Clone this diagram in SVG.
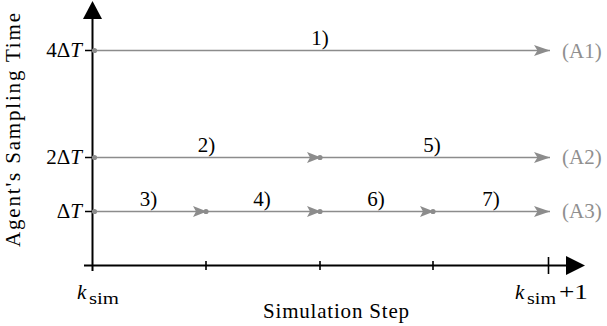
<svg xmlns="http://www.w3.org/2000/svg" width="607" height="326" viewBox="0 0 607 326">
<style>
text{font-family:"Liberation Serif","DejaVu Serif",serif;font-size:21px;fill:#000}
.it{font-style:italic}
.sub{font-size:17px}
.g{fill:#8f8f8f}
.ax{stroke:#000;stroke-width:2;fill:none}
.ln{stroke:#8c8c8c;stroke-width:1.6;fill:none}
.dot{fill:#8c8c8c}
.tk{stroke:#000;stroke-width:1.6}
</style>
<defs>
<marker id="ah" markerWidth="16" markerHeight="11" refX="16" refY="5.5" orient="auto" markerUnits="userSpaceOnUse">
<path d="M0,0 L16,5.5 L0,11 L3.5,5.5 Z" fill="#8c8c8c"/>
</marker>
<marker id="am" markerWidth="14" markerHeight="11" refX="13" refY="5.5" orient="auto" markerUnits="userSpaceOnUse">
<path d="M0,0 L14,5.5 L0,11 L3,5.5 Z" fill="#8c8c8c"/>
</marker>
</defs>
<g id="axes">
<path class="ax" d="M92.5,271 V16"/>
<path d="M83,19 L92.5,1 L102,19 Z" fill="#000"/>
<path class="ax" d="M84,265.5 H568"/>
<path d="M566,256 L585,265.5 L566,275 Z" fill="#000"/>
<path class="tk" d="M206,261 V270 M320,261 V270 M433,261 V270 M548.5,257 V274"/>
<path class="tk" d="M85,50.5 H92 M85,157.5 H92 M85,211.5 H92"/>
</g>
<g id="axis-labels">
<text class="it" x="82" y="57" text-anchor="end"><tspan font-style="normal">4Δ</tspan>T</text>
<text class="it" x="82" y="164" text-anchor="end"><tspan font-style="normal">2Δ</tspan>T</text>
<text class="it" x="82" y="218" text-anchor="end"><tspan font-style="normal">Δ</tspan>T</text>
<text transform="translate(20,130) rotate(-90)" text-anchor="middle" font-size="22" textLength="234" lengthAdjust="spacing">Agent's Sampling Time</text>
<text x="336" y="318" text-anchor="middle" textLength="146" lengthAdjust="spacing">Simulation Step</text>
<text class="it" x="77" y="299">k</text>
<text class="sub" x="89" y="304" textLength="30" lengthAdjust="spacingAndGlyphs">sim</text>
<text class="it" x="515" y="299">k</text>
<text class="sub" x="527" y="304" textLength="29" lengthAdjust="spacingAndGlyphs">sim</text>
<text x="559" y="299" textLength="29" lengthAdjust="spacingAndGlyphs">+1</text>
</g>
<g id="connectors">
<path class="ln" d="M94,50.5 H550" marker-end="url(#ah)"/>
<path class="ln" d="M94,157.5 H320" marker-end="url(#am)"/>
<path class="ln" d="M320,157.5 H550" marker-end="url(#ah)"/>
<path class="ln" d="M94,211.5 H206" marker-end="url(#am)"/>
<path class="ln" d="M206,211.5 H320" marker-end="url(#am)"/>
<path class="ln" d="M320,211.5 H433" marker-end="url(#am)"/>
<path class="ln" d="M433,211.5 H550" marker-end="url(#ah)"/>
<circle class="dot" cx="94.5" cy="50.5" r="2.6"/>
<circle class="dot" cx="94.5" cy="157.5" r="2.6"/>
<circle class="dot" cx="94.5" cy="211.5" r="2.6"/>
<circle class="dot" cx="320" cy="157.5" r="2.6"/>
<circle class="dot" cx="206" cy="211.5" r="2.6"/>
<circle class="dot" cx="320" cy="211.5" r="2.6"/>
<circle class="dot" cx="433" cy="211.5" r="2.6"/>
</g>
<g id="step-labels">
<text x="320" y="44.5" text-anchor="middle">1)</text>
<text x="206.5" y="151.5" text-anchor="middle">2)</text>
<text x="432" y="151.5" text-anchor="middle">5)</text>
<text x="148.5" y="205.5" text-anchor="middle">3)</text>
<text x="262" y="205.5" text-anchor="middle">4)</text>
<text x="376" y="205.5" text-anchor="middle">6)</text>
<text x="491" y="205.5" text-anchor="middle">7)</text>
</g>
<g id="agents">
<text class="g" x="562" y="57.5">(A1)</text>
<text class="g" x="562" y="164">(A2)</text>
<text class="g" x="562" y="218">(A3)</text>
</g>
</svg>
